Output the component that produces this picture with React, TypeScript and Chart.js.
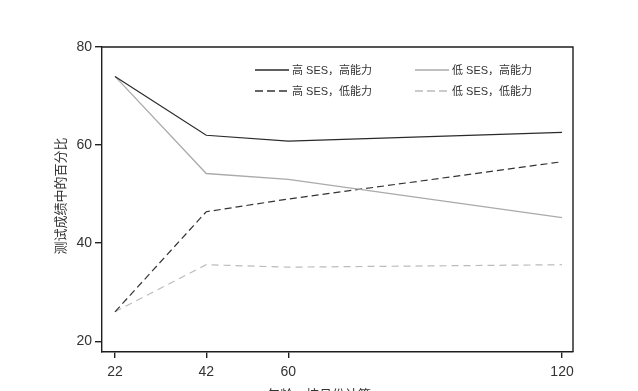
import React, { useEffect, useRef } from "react";
import Chart from "chart.js/auto";

const ages = [22, 42, 60, 120];
const xTicks = [22, 42, 60, 120];
const yTicks = [20, 40, 60, 80];
const highSesHighAbility = [74, 62.0, 60.8, 62.6];
const lowSesHighAbility = [74, 54.2, 53.0, 45.2];
const highSesLowAbility = [26, 46.4, 49.0, 56.6];
const lowSesLowAbility = [26, 35.6, 35.1, 35.6];
const seriesNames = ["高 SES，高能力", "低 SES，高能力", "高 SES，低能力", "低 SES，低能力"];
const yTitle = "测试成绩中的百分比";
const xTitle = "年龄，按月份计算";

const FONT = "'Liberation Sans', 'Noto Sans CJK SC', sans-serif";
const CJK = "'Noto Sans CJK SC', 'Liberation Sans', sans-serif";

export default function App() {
  const ref = useRef<HTMLCanvasElement>(null);
  useEffect(() => {
    if (!ref.current) return;
    const pts = (vals: number[]) => ages.map((a, i) => ({ x: a, y: vals[i] }));
    const styles = [
      { color: "#2a2a2a", dash: [] as number[], width: 1.2 },
      { color: "#aaaaaa", dash: [] as number[], width: 1.3 },
      { color: "#333333", dash: [7, 4], width: 1.2 },
      { color: "#bbbbbb", dash: [7, 5], width: 1.2 },
    ];
    const vals = [highSesHighAbility, lowSesHighAbility, highSesLowAbility, lowSesLowAbility];
    const decor = {
      id: "decor",
      afterDraw(chart: any) {
        const { ctx, chartArea } = chart;
        ctx.save();
        ctx.strokeStyle = "#1e1e1e";
        ctx.lineWidth = 1.4;
        ctx.beginPath();
        ctx.moveTo(chartArea.left, chartArea.top);
        ctx.lineTo(chartArea.right, chartArea.top);
        ctx.lineTo(chartArea.right, chartArea.bottom);
        ctx.stroke();
        const pos = [
          { x: 255, y: 70 },
          { x: 415, y: 70 },
          { x: 255, y: 91 },
          { x: 415, y: 91 },
        ];
        ctx.font = `11px ${FONT}`;
        ctx.textBaseline = "middle";
        ctx.textAlign = "left";
        pos.forEach((p, i) => {
          const s = styles[i];
          ctx.strokeStyle = s.color;
          ctx.lineWidth = s.width + 0.2;
          ctx.setLineDash(s.dash.length ? [8, 4] : []);
          ctx.beginPath();
          ctx.moveTo(p.x, p.y);
          ctx.lineTo(p.x + 34, p.y);
          ctx.stroke();
          ctx.setLineDash([]);
          ctx.fillStyle = "#333";
          ctx.fillText(seriesNames[i], p.x + 37, p.y + 0.5);
        });
        ctx.fillStyle = "#333";
        ctx.font = `13px ${CJK}`;
        ctx.textAlign = "center";
        ctx.textBaseline = "middle";
        ctx.save();
        ctx.translate(60, 196);
        ctx.rotate(-Math.PI / 2);
        ctx.fillText(yTitle, 0, 0);
        ctx.restore();
        ctx.fillText(xTitle, 319, 394);
        ctx.restore();
      },
    };
    const chart = new Chart(ref.current, {
      type: "line",
      data: {
        datasets: vals.map((v, i) => ({
          label: seriesNames[i],
          data: pts(v),
          borderColor: styles[i].color,
          borderWidth: styles[i].width,
          borderDash: styles[i].dash,
          pointRadius: 0,
          tension: 0,
          fill: false,
        })),
      },
      options: {
        animation: false,
        responsive: false,
        maintainAspectRatio: false,
        layout: { padding: { top: 47, right: 65, left: 0, bottom: 0 } },
        plugins: { legend: { display: false }, tooltip: { enabled: false } },
        scales: {
          x: {
            type: "linear",
            min: 19.15,
            max: 122.4,
            afterFit(s: any) { s.height = 39; },
            afterBuildTicks(s: any) { s.ticks = xTicks.map((v) => ({ value: v })); },
            grid: { drawOnChartArea: false, drawTicks: true, tickLength: 6, color: "#222", lineWidth: 1.4 },
            border: { display: true, color: "#1e1e1e", width: 1.4 },
            ticks: { color: "#333", font: { size: 14, family: FONT }, padding: 6, maxRotation: 0 },
          },
          y: {
            type: "linear",
            min: 17.8,
            max: 80,
            afterFit(s: any) { s.width = 102; },
            afterBuildTicks(s: any) { s.ticks = yTicks.map((v) => ({ value: v })); },
            grid: { drawOnChartArea: false, drawTicks: true, tickLength: 7, color: "#222", lineWidth: 1.4 },
            border: { display: true, color: "#1e1e1e", width: 1.4 },
            ticks: { color: "#333", font: { size: 14, family: FONT }, padding: 3 },
          },
        },
      },
      plugins: [decor],
    });
    return () => chart.destroy();
  }, []);
  return (
    <div style={{ position: "fixed", left: 0, top: 0, width: 638, height: 391, background: "#fff" }}>
      <canvas ref={ref} width={638} height={391} style={{ width: 638, height: 391, display: "block" }} />
    </div>
  );
}
